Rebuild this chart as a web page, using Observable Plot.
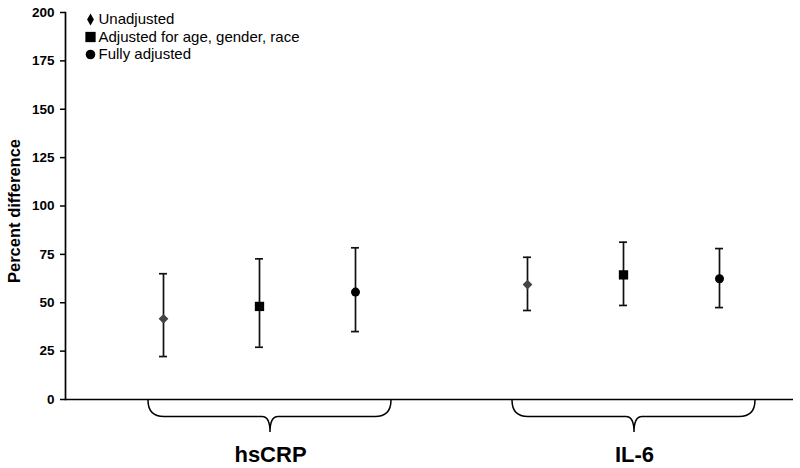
<!DOCTYPE html>
<html>
<head>
<meta charset="utf-8">
<script src="https://cdn.jsdelivr.net/npm/d3@7"></script>
<script src="https://cdn.jsdelivr.net/npm/@observablehq/plot@0.6"></script>
<style>
  html, body { margin: 0; padding: 0; background: #fff; }
  #chart { width: 800px; height: 468px; }
</style>
</head>
<body>
<div id="chart"></div>
<script>
// ---- data ----
const markers = ["hsCRP", "IL-6"];
const models = ["Unadjusted", "Adjusted for age, gender, race", "Fully adjusted"];
const estimate = [[41.7, 48.1, 55.5], [59.4, 64.4, 62.4]];
const lower = [[22.2, 27.0, 35.1], [46.0, 48.6, 47.5]];
const upper = [[65.0, 72.7, 78.4], [73.5, 81.3, 78.0]];
const yTicks = [0, 25, 50, 75, 100, 125, 150, 175, 200];
const yLabel = "Percent difference";

// ---- styles ----
const symbols = ["diamond2", "square", "circle"];
const pointR = [4.4, 5.25, 4.5];
const pointFill = ["#444444", "#000000", "#000000"];
const legendSymbols = ["diamond", "square", "circle"];
const legendR = [3.6, 5.8, 4.8];

const rows = [];
markers.forEach((g, gi) => models.forEach((m, mi) => rows.push({
  group: g, model: m, mi,
  est: estimate[gi][mi], lo: lower[gi][mi], hi: upper[gi][mi]
})));

function brace(index, scales, values, dimensions) {
  const x = scales.x, y = scales.y, bw = x.bandwidth ? x.bandwidth() / 2 : 0;
  const L = x(models[0]) + bw - 15, R = x(models[2]) + bw + 36, C = x(models[1]) + bw + 11;
  const y0 = y(0) + 1, yb = y0 + 16.5, yt = y0 + 32;
  const d = `M${L},${y0} Q${L},${yb} ${L + 16},${yb} L${C - 8},${yb} Q${C},${yb} ${C},${yt} ` +
            `Q${C},${yb} ${C + 8},${yb} L${R - 16},${yb} Q${R},${yb} ${R},${y0}`;
  const p = document.createElementNS("http://www.w3.org/2000/svg", "path");
  p.setAttribute("d", d);
  p.setAttribute("fill", "none");
  p.setAttribute("stroke", "#000");
  p.setAttribute("stroke-width", 1.5);
  return p;
}

const legendMarks = models.flatMap((m, i) => [
  Plot.dot([m], {fx: () => markers[0], frameAnchor: "top-left", dx: 25, dy: 7 + i * 17.5,
    symbol: () => legendSymbols[i], r: legendR[i], fill: "#000", stroke: "none"}),
  Plot.text([m], {fx: () => markers[0], frameAnchor: "top-left", dx: 33, dy: 7 + i * 17.5,
    text: d => d, textAnchor: "start", lineAnchor: "middle", fontSize: 15, fill: "#000"})
]);

const chart = Plot.plot({
  width: 800,
  height: 468,
  marginLeft: 64,
  marginRight: 7,
  marginTop: 12,
  marginBottom: 69,
  style: {fontFamily: "'Liberation Sans', Arial, Helvetica, sans-serif", background: "#fff", color: "#000"},
  fx: {domain: markers, paddingInner: 0, paddingOuter: 0, axis: null, label: null},
  x: {type: "band", domain: models, paddingInner: 0.917, paddingOuter: 0.847, align: 0.575, axis: null, label: null},
  y: {domain: [0, 200], ticks: yTicks, label: null},
  symbol: {type: "identity"},
  marks: [
    Plot.axisY({ticks: yTicks, tickSize: 5, tickPadding: 6, fontSize: 13.5, fontWeight: "bold",
      label: null, strokeWidth: 1.5, tickFormat: d => String(d)}),
    Plot.frame({anchor: "left", facetAnchor: "left", strokeWidth: 1.7}),
    Plot.ruleY([0], {strokeWidth: 1.7}),
    Plot.text([yLabel], {fx: () => markers[0], frameAnchor: "left", dx: -57, dy: 5, rotate: -90,
      text: d => d, textAnchor: "middle", lineAnchor: "top", fontSize: 16.5, fontWeight: "bold", fill: "#000"}),
    brace,
    Plot.text(markers, {fx: d => d, x: () => models[1], y: () => 0, dx: 11, dy: 62,
      text: d => d, textAnchor: "middle", lineAnchor: "bottom", fontSize: 22, fontWeight: "bold", fill: "#000"}),
    Plot.ruleX(rows, {fx: "group", x: "model", y1: "lo", y2: "hi", stroke: "#111", strokeWidth: 1.7}),
    Plot.tickY(rows, {fx: "group", x: "model", y: "lo", stroke: "#111", strokeWidth: 1.7}),
    Plot.tickY(rows, {fx: "group", x: "model", y: "hi", stroke: "#111", strokeWidth: 1.7}),
    ...models.map((m, i) => Plot.dot(rows.filter(d => d.mi === i), {fx: "group", x: "model", y: "est",
      symbol: () => symbols[i], r: pointR[i], fill: pointFill[i], stroke: "none"})),
    ...legendMarks
  ]
});
document.getElementById("chart").appendChild(chart);
</script>
</body>
</html>
